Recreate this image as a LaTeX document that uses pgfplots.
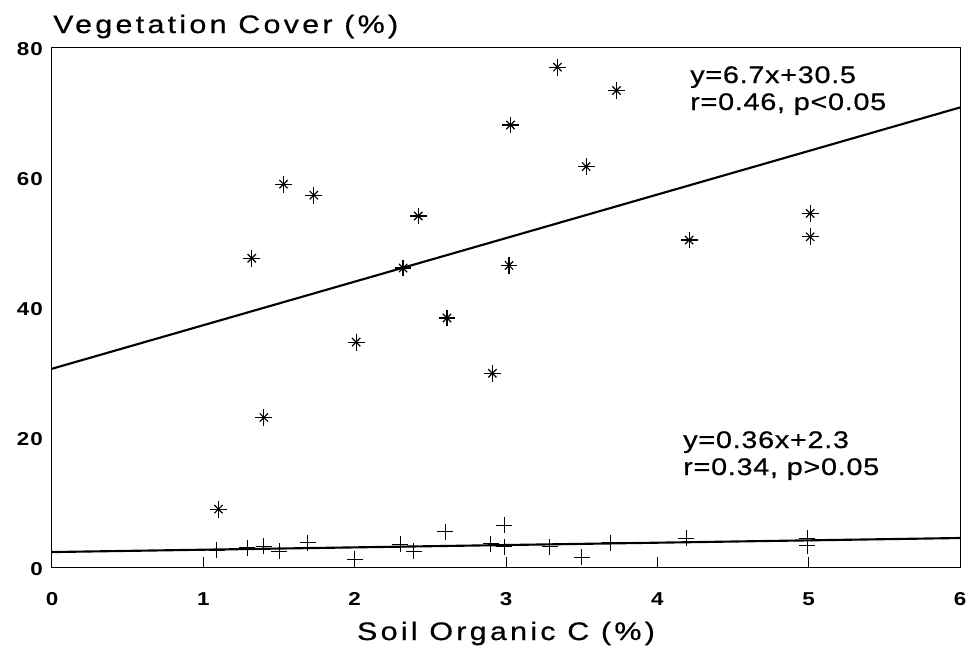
\documentclass[border=0pt]{standalone}
\usepackage{fontspec}
\setmainfont{Liberation Sans}
\usepackage{pgfplots}
\usepackage{pgfplotstable}
\pgfplotsset{compat=1.18}
\newfontfamily\labfont[FakeStretch=1.2, LetterSpace=13, FakeBold=0.6]{Liberation Sans}
\newfontfamily\annfont[FakeStretch=1.2, LetterSpace=3, FakeBold=0.6]{Liberation Sans}
\newfontfamily\tickfont[FakeStretch=1.2, LetterSpace=5]{Liberation Sans}

\pgfplotstableread{
x y
1.10 8.9
1.32 47.5
1.40 23.0
1.53 58.9
1.73 57.2
2.01 34.6
2.32 46.0
2.42 54.0
2.61 38.3
2.91 29.8
3.02 46.4
3.03 68.0
3.34 76.9
3.53 61.6
3.73 73.3
4.21 50.3
5.01 54.4
5.01 50.8
}\stars

\pgfplotstableread{
x y
1.09 2.6
1.29 3.0
1.40 3.2
1.50 2.4
1.69 3.7
2.00 1.2
2.30 3.5
2.39 2.4
2.60 5.4
2.90 3.6
2.99 6.4
2.99 3.1
3.29 3.1
3.50 1.5
3.69 3.7
4.19 4.4
4.99 4.4
4.99 3.3
}\pluses

\begin{document}
\begin{tikzpicture}
\path[use as bounding box] (-39pt,-63pt) rectangle (688.5pt,425.25pt);
\begin{axis}[
  name=ax, at={(0,0)}, anchor=south west,
  scale only axis, width=681pt, height=390pt,
  xmin=0, xmax=6, ymin=0, ymax=80,
  xtick={0,1,...,6}, ytick={0,20,...,80},
  tick align=inside, xtick pos=bottom, ytick pos=left,
  major tick length=7.5pt,
  ytick style={draw=none},
  xtick style={line width=0.75pt, black},
  axis line style={line width=0.75pt},
  /pgf/number format/assume math mode=true,
  xticklabel style={font=\fontsize{14}{14}\tickfont\bfseries, anchor=base, inner sep=0pt, yshift=-28.5pt},
  yticklabel style={font=\fontsize{14}{14}\tickfont\bfseries, anchor=east, inner sep=0pt, xshift=-6.75pt, yshift=-1.5pt},
  clip=false,
]
\addplot[black, line width=1.6pt, mark=none] coordinates {(0,30.5) (6,70.7)};
\addplot[black, line width=1.6pt, mark=none] coordinates {(0,2.3) (6,4.46)};
\addplot[only marks, mark=+, mark size=6.3pt, line width=0.9pt, black] table[x=x,y=y] {\stars};
\addplot[only marks, mark=x, mark size=4.4pt, line width=0.9pt, black] table[x=x,y=y] {\stars};
\addplot[only marks, mark=+, mark size=6pt, line width=0.7pt, black] table[x=x,y=y] {\pluses};
\end{axis}
\node[anchor=base west, inner sep=0pt, font=\fontsize{19}{21}\labfont] at ([xshift=0.75pt, yshift=10.5pt]ax.north west) {Vegetation Cover (\%)};
\node[anchor=base, inner sep=0pt, font=\fontsize{19}{21}\labfont] at ([yshift=-54.75pt]ax.south) {Soil Organic C (\%)};
\node[anchor=base west, inner sep=0pt, font=\fontsize{18}{20}\annfont] at ([xshift=478.5pt, yshift=-27pt]ax.north west) {y=6.7x+30.5};
\node[anchor=base west, inner sep=0pt, font=\fontsize{18}{20}\annfont] at ([xshift=478.5pt, yshift=-47.25pt]ax.north west) {r=0.46, p<0.05};
\node[anchor=base west, inner sep=0pt, font=\fontsize{18}{20}\annfont] at ([xshift=473.25pt, yshift=89.25pt]ax.south west) {y=0.36x+2.3};
\node[anchor=base west, inner sep=0pt, font=\fontsize{18}{20}\annfont] at ([xshift=473.25pt, yshift=69pt]ax.south west) {r=0.34, p>0.05};
\end{tikzpicture}
\end{document}
